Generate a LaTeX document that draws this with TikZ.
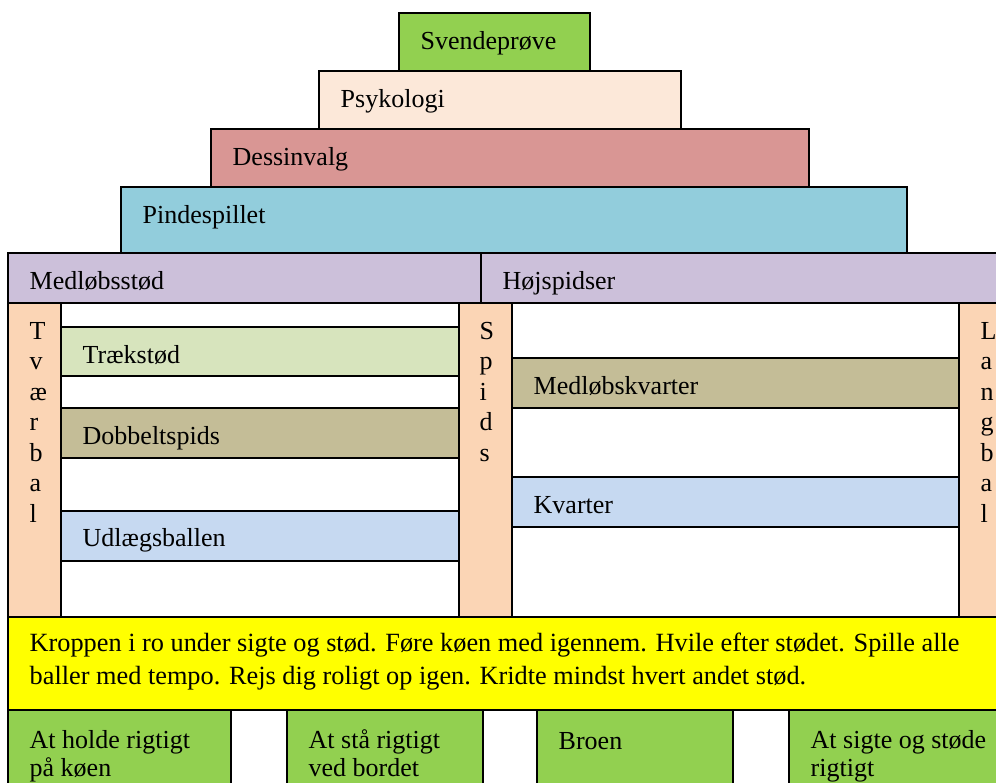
\documentclass[tikz,border=0pt]{standalone}
\usepackage{fontspec}
\setmainfont{Liberation Serif}
\definecolor{svgreen}{HTML}{92D050}
\definecolor{psyk}{HTML}{FCE8D9}
\definecolor{dessin}{HTML}{D99694}
\definecolor{pinde}{HTML}{92CDDC}
\definecolor{lilla}{HTML}{CCC0DA}
\definecolor{peach}{HTML}{FBD5B5}
\definecolor{traek}{HTML}{D7E4BD}
\definecolor{khaki}{HTML}{C4BD97}
\definecolor{lblue}{HTML}{C6D9F1}
\definecolor{yel}{HTML}{FFFF00}

\begin{document}
\begin{tikzpicture}[x=1pt, y=-1pt, line width=1.4pt,
  lbl/.style={anchor=base west, inner sep=0pt, font=\fontsize{26}{33}\selectfont},
  col/.style={lbl, align=left, font=\fontsize{26}{30.5}\selectfont},
  two/.style={lbl, align=left, font=\fontsize{26}{27.5}\selectfont}]

  \clip (0,0) rectangle (996,782);

  %% pyramid
  \draw[fill=svgreen] (399,13) rectangle (590,71);
  \node[lbl] (svend) at (420,49) {Svendeprøve};
  \draw[fill=psyk] (319,71) rectangle (681,129);
  \node[lbl] (psyk) at (340,107) {Psykologi};
  \draw[fill=dessin] (211,129) rectangle (809,187);
  \node[lbl] (dessin) at (232,165) {Dessinvalg};
  \draw[fill=pinde] (121,187) rectangle (907,253);
  \node[lbl] (pinde) at (142,223) {Pindespillet};

  %% top of the house
  \draw[fill=lilla] (8,253) rectangle (481,303);
  \node[lbl] (medlob) at (29,289) {Medløbsstød};
  \draw[fill=lilla] (481,253) rectangle (1010,303);
  \node[lbl] (hoj) at (502,289) {Højspidser};

  %% columns (base = last line)
  \draw[fill=peach] (8,303) rectangle (61,617);
  \node[col] (tvaer) at (29,522) {T\\v\\æ\\r\\b\\a\\l};
  \draw[fill=white] (61,303) rectangle (459,617);
  \draw[fill=peach] (459,303) rectangle (512,617);
  \node[col] (spids) at (479,461) {S\\p\\i\\d\\s};
  \draw[fill=white] (512,303) rectangle (959,617);
  \draw[fill=peach] (959,303) rectangle (1010,617);
  \node[col] (langbal) at (980,522) {L\\a\\n\\g\\b\\a\\l};

  %% strips, left
  \draw[fill=traek] (61,327) rectangle (459,376);
  \node[lbl] (traek) at (82,363) {Trækstød};
  \draw[fill=khaki] (61,408) rectangle (459,458);
  \node[lbl] (dobbelt) at (82,444) {Dobbeltspids};
  \draw[fill=lblue] (61,511) rectangle (459,561);
  \node[lbl] (udlaeg) at (82,546) {Udlægsballen};

  %% strips, right
  \draw[fill=khaki] (512,358) rectangle (959,408);
  \node[lbl] (medkvart) at (533,394) {Medløbskvarter};
  \draw[fill=lblue] (512,477) rectangle (959,527);
  \node[lbl] (kvart) at (533,513) {Kvarter};

  %% floor
  \draw[fill=yel] (8,617) rectangle (1010,710);
  \node[lbl, align=left, font=\fontsize{26.3}{33}\selectfont] (krop) at (29,684)
    {Kroppen i ro under sigte og stød. Føre køen med igennem. Hvile efter stødet. Spille alle\\
     baller med tempo. Rejs dig roligt op igen. Kridte mindst hvert andet stød.};

  %% foundation
  \draw[fill=svgreen] (8,710) rectangle (231,800);
  \node[two] (holde) at (29,776) {At holde rigtigt\\på køen};
  \draw[fill=svgreen] (287,710) rectangle (483,800);
  \node[two] (staa) at (308,776) {At stå rigtigt\\ved bordet};
  \draw[fill=svgreen] (537,710) rectangle (733,800);
  \node[lbl] (broen) at (558,749) {Broen};
  \draw[fill=svgreen] (789,710) rectangle (1010,800);
  \node[two] (sigte) at (810,776) {At sigte og støde\\rigtigt};
\end{tikzpicture}
\end{document}
